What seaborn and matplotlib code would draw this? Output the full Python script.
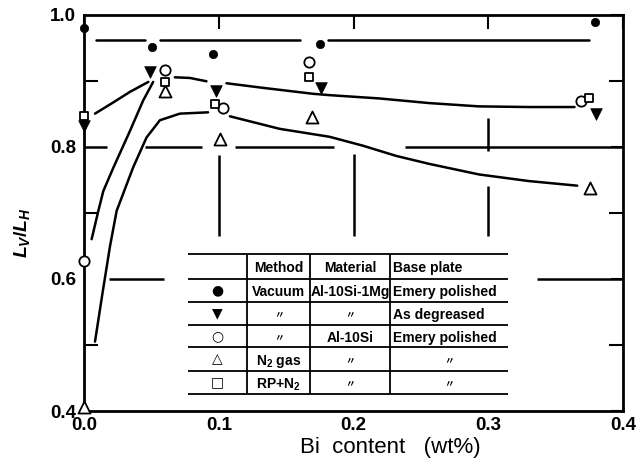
import numpy as np
import pandas as pd
import matplotlib
matplotlib.use("Agg")
import matplotlib.pyplot as plt
from matplotlib.ticker import FixedLocator
from matplotlib.patches import Rectangle
import seaborn as sns

sns.set_theme(style="white")
plt.rcParams["font.family"] = ["Liberation Sans", "DejaVu Sans", "Noto Sans CJK JP"]
plt.rcParams["mathtext.fontset"] = "custom"
plt.rcParams["mathtext.rm"] = "Liberation Sans:bold"
plt.rcParams["mathtext.it"] = "Liberation Sans:italic:bold"
plt.rcParams["mathtext.bf"] = "Liberation Sans:bold"

# ---------------- data ----------------
vac_x = [0.0, 0.0498, 0.0956, 0.175, 0.379]
vac_y = [0.979, 0.951, 0.941, 0.956, 0.989]
deg_x = [0.0, 0.0486, 0.0975, 0.176, 0.380]
deg_y = [0.832, 0.913, 0.885, 0.889, 0.849]
si_x = [0.0, 0.0597, 0.103, 0.167, 0.369]
si_y = [0.627, 0.916, 0.859, 0.928, 0.869]
n2_x = [0.0, 0.0597, 0.1005, 0.169, 0.3755]
n2_y = [0.406, 0.884, 0.811, 0.845, 0.738]
rp_x = [0.0, 0.0597, 0.0968, 0.167, 0.3745]
rp_y = [0.846, 0.898, 0.864, 0.905, 0.873]

vac_mean = 0.962
vac_mean_segments = [(0.0085, 0.045), (0.056, 0.16), (0.181, 0.375)]

upper_curve = [
    ([0.0078, 0.0214, 0.0338, 0.0474], [0.850, 0.867, 0.883, 0.898]),
    ([0.0671, 0.0783, 0.0906], [0.905, 0.904, 0.899]),
    ([0.1055, 0.1327, 0.170, 0.182, 0.219, 0.256, 0.293, 0.330, 0.364],
     [0.896, 0.889, 0.880, 0.878, 0.873, 0.866, 0.861, 0.860, 0.860]),
]
middle_curve = [
    ([0.0053, 0.0103, 0.014, 0.0214, 0.0338, 0.0436, 0.051],
     [0.660, 0.703, 0.733, 0.768, 0.824, 0.870, 0.898]),
]
lower_curve = [
    ([0.0078, 0.0135, 0.019, 0.0239, 0.0362, 0.0461, 0.056, 0.0708, 0.0918],
     [0.505, 0.580, 0.650, 0.703, 0.769, 0.814, 0.840, 0.850, 0.852]),
    ([0.108, 0.145, 0.182, 0.2068, 0.2316, 0.256, 0.293, 0.330, 0.366],
     [0.846, 0.827, 0.815, 0.8015, 0.786, 0.774, 0.758, 0.748, 0.741]),
]

x_ticks = [0.0, 0.1, 0.2, 0.3, 0.4]
x_ticklabels = ["0.0", "0.1", "0.2", "0.3", "0.4"]
y_ticks = [0.4, 0.6, 0.8, 1.0]
y_ticklabels = ["0.4", "0.6", "0.8", "1.0"]
y_minor = [0.5, 0.7, 0.9]

table_header = ["", "Method", "Material", "Base plate"]
table_rows = [
    ["\u25CF", "Vacuum", "Al-10Si-1Mg", "Emery polished"],
    ["\u25BC", "\u3003", "\u3003", "As degreased"],
    ["\u25CB", "\u3003", "Al-10Si", "Emery polished"],
    ["\u25B3", r"N$_2$ gas", "\u3003", "\u3003"],
    ["\u25A1", r"RP+N$_2$", "\u3003", "\u3003"],
]

# ---------------- layout / style ----------------
grid_h = {0.8: [(0.0, 0.017), (0.045, 0.087), (0.112, 0.185), (0.238, 0.4)],
          0.6: [(0.018, 0.059), (0.336, 0.4)]}
grid_v = {0.1: [(0.665, 0.787)], 0.2: [(0.665, 0.789)],
          0.3: [(0.794, 0.844), (0.665, 0.74)]}

fig = plt.figure(figsize=(6.44, 4.70), dpi=100)
ax = fig.add_axes([0.1312, 0.1255, 0.8362, 0.8436])
ax.set_facecolor("white")

LW = 1.8
for yv, segs in grid_h.items():
    for a, b in segs:
        ax.plot([a, b], [yv, yv], color="black", lw=LW, solid_capstyle="butt", zorder=1)
for xv, segs in grid_v.items():
    for a, b in segs:
        ax.plot([xv, xv], [a, b], color="black", lw=LW, solid_capstyle="butt", zorder=1)

for a, b in vac_mean_segments:
    sns.lineplot(x=[a, b], y=[vac_mean, vac_mean], color="black", lw=LW, ax=ax,
                 sort=False, estimator=None, zorder=2)
for curve in (upper_curve, middle_curve, lower_curve):
    for sx, sy in curve:
        sns.lineplot(x=sx, y=sy, color="black", lw=LW, ax=ax, sort=False,
                     estimator=None, zorder=2)

sns.scatterplot(x=vac_x, y=vac_y, marker="o", s=36, color="black",
                edgecolor="black", linewidth=0.5, ax=ax, zorder=5, clip_on=False)
sns.scatterplot(x=deg_x, y=deg_y, marker="v", s=70, color="black",
                edgecolor="black", linewidth=0.5, ax=ax, zorder=5, clip_on=False)
sns.scatterplot(x=si_x, y=si_y, marker="o", s=55, color="white",
                edgecolor="black", linewidth=1.3, ax=ax, zorder=6, clip_on=False)
sns.scatterplot(x=n2_x, y=n2_y, marker="^", s=75, color="white",
                edgecolor="black", linewidth=1.3, ax=ax, zorder=6, clip_on=False)
sns.scatterplot(x=rp_x, y=rp_y, marker="s", s=36, color="white",
                edgecolor="black", linewidth=1.3, ax=ax, zorder=7, clip_on=False)

ax.set_xlim(0, 0.4)
ax.set_ylim(0.4, 1.0)
ax.set_xticks(x_ticks)
ax.set_xticklabels(x_ticklabels)
ax.set_yticks(y_ticks)
ax.set_yticklabels(y_ticklabels)
ax.yaxis.set_minor_locator(FixedLocator(y_minor))
ax.tick_params(axis="both", which="both", direction="in", top=True, right=True,
               color="black", width=1.5, labelsize=13.5, labelcolor="black")
ax.tick_params(axis="x", which="major", length=10, pad=4)
ax.tick_params(axis="y", which="major", length=9, pad=6)
ax.tick_params(axis="y", which="minor", length=10, left=True, right=True)
for lab in ax.get_xticklabels() + ax.get_yticklabels():
    lab.set_fontweight("bold")
for sp in ax.spines.values():
    sp.set_visible(True)
    sp.set_color("black")
    sp.set_linewidth(2.0)
    sp.set_zorder(4)

ax.set_xlabel("Bi  content   (wt%)", fontsize=16, color="black")
ax.xaxis.set_label_coords(0.567, -0.091)
ax.xaxis.label.set_va("center")
ax.set_ylabel(r"$L_V/L_H$", fontsize=14, color="black")
ax.yaxis.set_label_coords(-0.116, 0.451)
ax.yaxis.label.set_va("center")

# ---------------- table (axes fraction layout) ----------------
col_x = [0.1922, 0.3018, 0.4188, 0.5673, 0.7864]
row_y = [0.396, 0.333, 0.275, 0.217, 0.161, 0.101, 0.043]
ax.add_patch(Rectangle((col_x[0], row_y[-1]), col_x[-1] - col_x[0], row_y[0] - row_y[-1],
                       transform=ax.transAxes, facecolor="white", edgecolor="none", zorder=8))
for ry in row_y:
    ax.plot([col_x[0], col_x[-1]], [ry, ry], transform=ax.transAxes, color="black",
            lw=1.3, zorder=9, solid_capstyle="butt")
for cx in col_x[1:4]:
    ax.plot([cx, cx], [row_y[-1], row_y[0]], transform=ax.transAxes, color="black",
            lw=1.3, zorder=9, solid_capstyle="butt")

def put(text, col, row, ha="center"):
    yc = (row_y[row] + row_y[row + 1]) / 2
    if ha == "center":
        xc = (col_x[col] + col_x[col + 1]) / 2
    else:
        xc = col_x[col] + 0.006
    small = text == "\u3003"
    ax.text(xc, yc, text, transform=ax.transAxes, ha=ha, va="center_baseline",
            fontsize=7 if small else 10, fontweight="bold", color="black", zorder=10,
            family=["Noto Sans CJK JP"] if small else ["Liberation Sans", "DejaVu Sans"])

for c, t in enumerate(table_header):
    if t:
        put(t, c, 0, ha="left" if c == 3 else "center")
for r, row in enumerate(table_rows):
    for c, t in enumerate(row):
        if c == 0:
            yc = (row_y[r + 1] + row_y[r + 2]) / 2
            ax.text((col_x[0] + col_x[1]) / 2, yc, t, transform=ax.transAxes, ha="center",
                    va="center", fontsize=10, color="black", zorder=10,
                    family=["DejaVu Sans"])
        else:
            put(t, c, r + 1, ha="left" if (c == 3 and t != "\u3003") else "center")

fig.savefig("out.png", dpi=100, facecolor="white")
